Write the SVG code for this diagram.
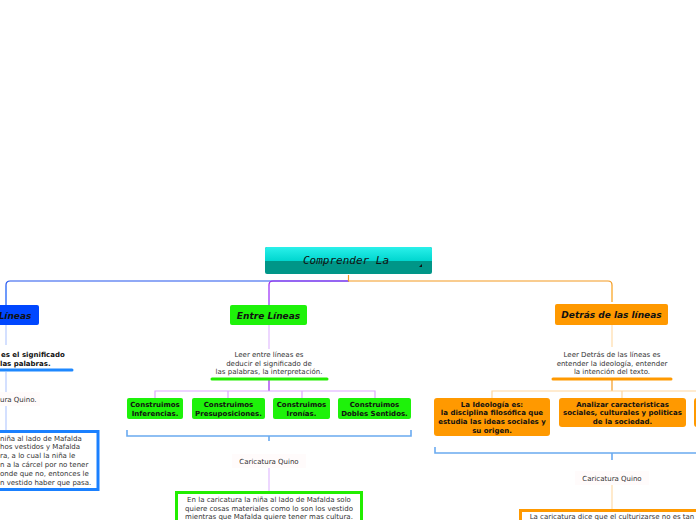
<svg xmlns="http://www.w3.org/2000/svg" width="696" height="520" viewBox="0 0 696 520">
<defs>
<linearGradient id="rootTop" x1="0" y1="0" x2="0" y2="1">
<stop offset="0" stop-color="#2af0ea"/>
<stop offset="1" stop-color="#00d6cf"/>
</linearGradient>
<style>
.nt{font-family:"DejaVu Sans",Verdana,sans-serif;font-weight:bold;font-style:italic;font-size:9px;fill:#111;text-anchor:middle}
.d{font-family:"DejaVu Sans",Verdana,sans-serif;font-size:7px;fill:#333;text-anchor:middle}
.b{font-family:"DejaVu Sans",Verdana,sans-serif;font-size:7px;font-weight:bold;fill:#111;text-anchor:middle}
.c{fill:none;stroke-width:1.2}
.ul{stroke-width:3;stroke-linecap:round}
.br{fill:none;stroke:#6aaaf0;stroke-width:1.6}
.cap{fill:#fffbfb}
</style>
</defs>
<rect width="696" height="520" fill="#ffffff"/>

<g id="connectors">
<path class="c" d="M349 281 H10 Q6 281 6 285 V305" stroke="#2255ee"/>
<path class="c" d="M6 286 V305" stroke="#6699ff"/>
<path class="c" d="M349 281 H273 Q269 281 269 285 V305" stroke="#9a22ee"/>
<path class="c" d="M269 286 V305" stroke="#c080ff"/>
<path class="c" d="M348 281 H608 Q612 281 612 285 V302" stroke="#f39a20"/>
<path class="c" d="M612 286 V302" stroke="#ffc870"/>
<path class="c" d="M348.5 275 V281" stroke="#f39a20"/>
<path class="c" d="M6 325 V345" stroke="#b8ccff"/>
<path class="c" d="M6 372 V392" stroke="#b8ccff"/>
<path class="c" d="M6 406 V430" stroke="#b8ccff"/>
<path class="c" d="M269 325 V349" stroke="#e2bcff"/>
<path class="c" d="M269 380 V391" stroke="#9a22ee"/>
<path class="c" d="M155 398 V391 H375 V398 M228 391 V398 M302 391 V398" stroke="#dca8ff"/>
<path class="br" d="M127 430 V436 H411 V430 M269 436 V441"/>
<path class="c" d="M269 468 V491" stroke="#e2bcff"/>
<path class="c" d="M612 325 V347" stroke="#ffdcaa"/>
<path class="c" d="M612 380 V391" stroke="#f39a20"/>
<path class="c" d="M492 398 V391 H700 M622 391 V398" stroke="#ffd8a0"/>
<path class="br" d="M435 447 V453 H700 M612 453 V460"/>
<path class="c" d="M612 485 V510" stroke="#ffdcaa"/>
</g>

<g id="root">
<rect x="265" y="247" width="167" height="27" rx="2" fill="#009688"/>
<path d="M267 247 H430 Q432 247 432 249 V261 H265 V249 Q265 247 267 247 Z" fill="url(#rootTop)"/>
<text x="346" y="264" font-family="'DejaVu Sans Mono',monospace" font-style="italic" font-size="11" fill="#111" text-anchor="middle">Comprender La</text>
<path d="M419 267 L422 264 L422 267 Z" fill="#111"/>
</g>

<g id="node-left">
<rect x="-60" y="305" width="99" height="20" rx="2" fill="#0047ff"/>
<text class="nt" x="15" y="318.5">Líneas</text>
</g>
<g id="desc-left">
<text x="1" y="357" font-family="'DejaVu Sans',sans-serif" font-size="7" font-weight="bold" fill="#111">es el significado</text>
<text x="0" y="365.5" font-family="'DejaVu Sans',sans-serif" font-size="7" font-weight="bold" fill="#111">las palabras.</text>
<line class="ul" x1="-2" y1="370" x2="72" y2="370" stroke="#1e88ff"/>
</g>
<g id="cap-left">
<rect class="cap" x="-10" y="392" width="50" height="14"/>
<text x="0" y="401.5" font-family="'DejaVu Sans',sans-serif" font-size="7" fill="#333">ura Quino.</text>
</g>
<g id="box-left">
<rect x="-10" y="431.5" width="108" height="58" fill="#fff" stroke="#1a80ff" stroke-width="3"/>
<g font-family="'DejaVu Sans',sans-serif" font-size="7" fill="#333">
<text x="0" y="440.5">niña al lado de Mafalda</text>
<text x="0" y="449.3">hos vestidos y Mafalda</text>
<text x="0" y="458.1">ra, a lo cual la niña le</text>
<text x="0" y="466.9">n a la cárcel por no tener</text>
<text x="0" y="475.7">onde que no, entonces le</text>
<text x="0" y="484.5">n vestido haber que pasa.</text>
</g>
</g>

<g id="node-mid">
<rect x="230" y="305" width="77" height="20" rx="2" fill="#1ef20a"/>
<text class="nt" x="268.5" y="318.5">Entre Líneas</text>
</g>
<g id="desc-mid">
<text class="d" x="269" y="357">Leer entre líneas es</text>
<text class="d" x="269" y="365.5">deducir el significado de</text>
<text class="d" x="269" y="374">las palabras, la interpretación.</text>
<line class="ul" x1="212" y1="379" x2="327" y2="379" stroke="#22ee00"/>
</g>
<g id="m1">
<rect x="127" y="398" width="56" height="21" rx="2" fill="#1ef20a"/>
<text class="b" x="155" y="406.5">Construimos</text>
<text class="b" x="155" y="415.5">Inferencias.</text>
</g>
<g id="m2">
<rect x="192" y="398" width="73" height="21" rx="2" fill="#1ef20a"/>
<text class="b" x="228.5" y="406.5">Construimos</text>
<text class="b" x="228.5" y="415.5">Presuposiciones.</text>
</g>
<g id="m3">
<rect x="273" y="398" width="57" height="21" rx="2" fill="#1ef20a"/>
<text class="b" x="301.5" y="406.5">Construimos</text>
<text class="b" x="301.5" y="415.5">Ironías.</text>
</g>
<g id="m4">
<rect x="338" y="398" width="73" height="21" rx="2" fill="#1ef20a"/>
<text class="b" x="374.5" y="406.5">Construimos</text>
<text class="b" x="374.5" y="415.5">Dobles Sentidos.</text>
</g>
<g id="cap-mid">
<rect class="cap" x="232" y="454" width="74" height="14"/>
<text class="d" x="269" y="464">Caricatura Quino</text>
</g>
<g id="box-mid">
<rect x="176.5" y="492.5" width="185" height="40" fill="#fff" stroke="#22ee00" stroke-width="3"/>
<text class="d" x="269" y="502">En la caricatura la niña al lado de Mafalda solo</text>
<text class="d" x="269" y="510.7">quiere cosas materiales como lo son los vestido</text>
<text class="d" x="269" y="519.2">mientras que Mafalda quiere tener mas cultura.</text>
</g>

<g id="node-right">
<rect x="555" y="304" width="113" height="21" rx="2" fill="#ff9900"/>
<text class="nt" x="611.5" y="318">Detrás de las líneas</text>
</g>
<g id="desc-right">
<text class="d" x="612" y="357">Leer Detrás de las líneas es</text>
<text class="d" x="612" y="365.5">entender la ideología, entender</text>
<text class="d" x="612" y="374">la intención del texto.</text>
<line class="ul" x1="553" y1="379" x2="671" y2="379" stroke="#ff9900"/>
</g>
<g id="r1">
<rect x="434" y="398" width="116" height="38" rx="3" fill="#ff9900"/>
<text class="b" x="492" y="406.5">La Ideología es:</text>
<text class="b" x="492" y="415.3">la disciplina filosófica que</text>
<text class="b" x="492" y="424.1">estudia las ideas sociales y</text>
<text class="b" x="492" y="432.9">su origen.</text>
</g>
<g id="r2">
<rect x="559" y="398" width="127" height="29" rx="3" fill="#ff9900"/>
<text class="b" x="622.5" y="406.5">Analizar caracteristicas</text>
<text class="b" x="622.5" y="415.3">sociales, culturales y politicas</text>
<text class="b" x="622.5" y="424.1">de la sociedad.</text>
</g>
<g id="r3">
<rect x="694" y="398" width="40" height="29" rx="3" fill="#ff9900"/>
</g>
<g id="cap-right">
<rect class="cap" x="575" y="471" width="74" height="14"/>
<text class="d" x="612" y="481">Caricatura Quino</text>
</g>
<g id="box-right">
<rect x="520.5" y="510.5" width="190" height="30" fill="#fff" stroke="#ff9900" stroke-width="3"/>
<text class="d" x="612" y="519.2">La caricatura dice que el culturizarse no es tan</text>
</g>
</svg>
